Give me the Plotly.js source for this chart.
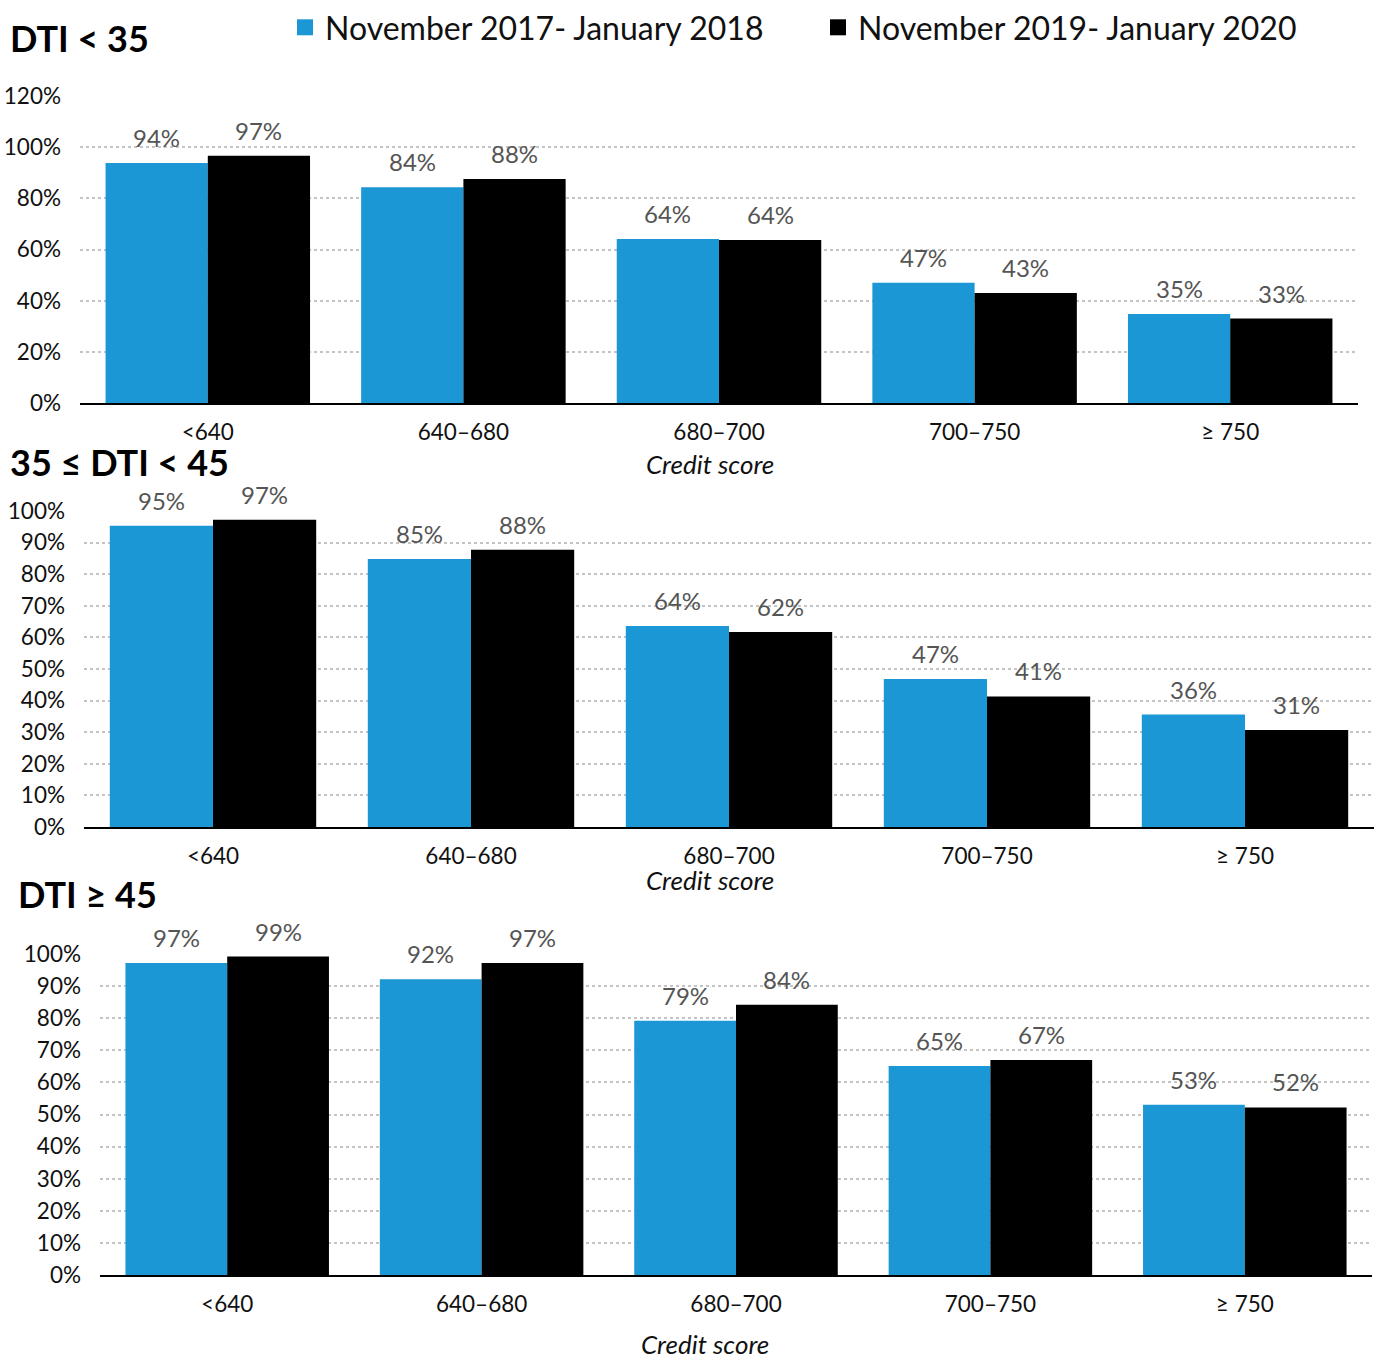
<!DOCTYPE html>
<html>
<head>
<meta charset="utf-8">
<script src="https://cdn.plot.ly/plotly-3.0.1.min.js"></script>
<style>html,body{margin:0;padding:0;background:#fff;}#chart{width:1375px;height:1359px;}</style>
</head>
<body>
<div id="chart"></div>
<script>
// ---- data ----
const categories = ['<640', '640–680', '680–700', '700–750', '≥ 750'];
const seriesNames = ['November 2017- January 2018', 'November 2019- January 2020'];
const panelTitles = ['DTI < 35', '35 ≤ DTI < 45', 'DTI ≥ 45'];
const axisTitle = 'Credit score';

const dtiLow_2018 = [0.938, 0.843, 0.641, 0.470, 0.348];
const dtiLow_2020 = [0.966, 0.876, 0.637, 0.430, 0.330];
const dtiMid_2018 = [0.953, 0.848, 0.636, 0.468, 0.356];
const dtiMid_2020 = [0.972, 0.877, 0.617, 0.413, 0.307];
const dtiHigh_2018 = [0.972, 0.921, 0.792, 0.651, 0.530];
const dtiHigh_2020 = [0.992, 0.972, 0.842, 0.670, 0.522];

// ---- style ----
const FONT = 'Lato, "Open Sans", sans-serif';
const BLUE = '#1A97D4';
const BLACK = '#000000';
const H = 1359, W = 1375;

const panels = [
  {a: dtiLow_2018, b: dtiLow_2020, top: 96, bot: 403, left: 80, right: 1358, range: [0, 1.2], dtick: 0.2,
   title: panelTitles[0], titleX: 8, titleY: 38, xtitleY: 464, xtitleX: 710},
  {a: dtiMid_2018, b: dtiMid_2020, top: 511, bot: 827, left: 84, right: 1374, range: [0, 1.0], dtick: 0.1,
   title: panelTitles[1], titleX: 8, titleY: 462, xtitleY: 880, xtitleX: 710},
  {a: dtiHigh_2018, b: dtiHigh_2020, top: 954, bot: 1275, left: 100, right: 1372, range: [0, 1.0], dtick: 0.1,
   title: panelTitles[2], titleX: 16, titleY: 894, xtitleY: 1344, xtitleX: 705}
];

const data = [];
const layout = {
  width: W, height: H,
  margin: {l: 0, r: 0, t: 0, b: 0},
  paper_bgcolor: '#fff', plot_bgcolor: '#fff',
  font: {family: FONT, color: '#111'},
  barmode: 'group', bargap: 0.2, bargroupgap: 0,
  showlegend: true,
  legend: {
    orientation: 'h', x: 285 / W, y: 1, xanchor: 'left', yanchor: 'top',
    font: {family: FONT, size: 32, color: '#111'},
    entrywidth: 488, entrywidthmode: 'pixels', itemclick: false,
    bgcolor: 'rgba(0,0,0,0)'
  },
  annotations: []
};

panels.forEach((p, i) => {
  const xa = i === 0 ? 'x' : 'x' + (i + 1);
  const ya = i === 0 ? 'y' : 'y' + (i + 1);
  const xkey = i === 0 ? 'xaxis' : 'xaxis' + (i + 1);
  const ykey = i === 0 ? 'yaxis' : 'yaxis' + (i + 1);
  [[p.a, BLUE, 0], [p.b, BLACK, 1]].forEach(([vals, col, k]) => {
    data.push({
      type: 'bar', x: categories, y: vals, xaxis: xa, yaxis: ya,
      name: seriesNames[k], marker: {color: col, line: {width: 0}},
      showlegend: false, hoverinfo: 'skip'
    });
    vals.forEach((v, j) => {
      layout.annotations.push({
        xref: xa, yref: ya, x: j + (k === 0 ? -0.2 : 0.2), y: v,
        text: Math.round(v * 100) + '%', showarrow: false,
        xanchor: 'center', yanchor: 'bottom', yshift: 9,
        font: {family: FONT, size: 24, color: '#555555'}
      });
    });
  });
  layout[xkey] = {
    domain: [p.left / W, p.right / W], anchor: ya,
    type: 'category', range: [-0.5, 4.5],
    showline: true, linecolor: '#000', linewidth: 2,
    showgrid: false, ticks: '', ticklabelstandoff: 8,
    tickfont: {family: FONT, size: 22.5, color: '#111'},
    fixedrange: true
  };
  layout[ykey] = {
    domain: [1 - p.bot / H, 1 - p.top / H], anchor: xa,
    range: p.range, dtick: p.dtick, tick0: 0, tickformat: '.0%',
    showgrid: true, gridcolor: '#C4C4C4', griddash: 'dot', gridwidth: 2,
    zeroline: false, showline: false, ticks: '', ticklabelstandoff: 18,
    tickfont: {family: FONT, size: 22.5, color: '#111'},
    fixedrange: true
  };
  layout.annotations.push({
    xref: 'paper', yref: 'paper', x: p.titleX / W, y: 1 - p.titleY / H,
    xanchor: 'left', yanchor: 'middle', showarrow: false,
    text: '<b>' + p.title + '</b>',
    font: {family: FONT, size: 36, color: '#000'}
  });
  layout.annotations.push({
    xref: 'paper', yref: 'paper', x: p.xtitleX / W, y: 1 - p.xtitleY / H,
    xanchor: 'center', yanchor: 'middle', showarrow: false, borderpad: 0,
    text: '<i>' + axisTitle + '</i>',
    font: {family: FONT, size: 26, color: '#111'}
  });
});

// legend-only entries
seriesNames.forEach((n, k) => {
  data.push({
    type: 'scatter', mode: 'markers', x: [null], y: [null], xaxis: 'x', yaxis: 'y',
    name: n, showlegend: true, hoverinfo: 'skip',
    marker: {symbol: 'square', size: 16, color: k === 0 ? BLUE : BLACK}
  });
});

Plotly.newPlot('chart', data, layout, {displayModeBar: false, staticPlot: true});
</script>
</body>
</html>
